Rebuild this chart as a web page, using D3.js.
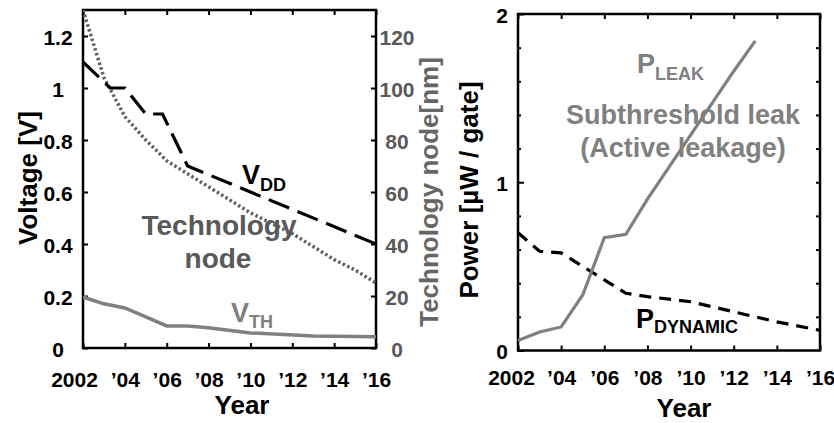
<!DOCTYPE html>
<html><head><meta charset="utf-8">
<script src="https://cdn.jsdelivr.net/npm/d3@7"></script>
<style>
body{margin:0;background:#fff;}
text{font-family:Arial,"Liberation Sans",sans-serif;font-weight:bold;}
</style></head>
<body><svg id="c" width="834" height="423"></svg>
<script>
// ---- data ----
const yearTicks = [2002,2004,2006,2008,2010,2012,2014,2016];
const yearTickLabels = ["2002","\u201904","\u201906","\u201908","\u201910","\u201912","\u201914","\u201916"];
const vddYears = [2002,2003.3,2004,2005,2005.8,2007,2016];
const vddValues = [1.1,1.0,1.0,0.9,0.9,0.7,0.4];
const nodeYears = [2002,2003,2004,2005,2006,2007,2008,2009,2010,2011,2012,2013,2014,2015,2016];
const nodeValues = [130,104,89,80,72,67,62,57,52,48,44,39,34,30,25];
const vthYears = [2002,2003,2004,2005,2006,2007,2008,2010,2013,2016];
const vthValues = [0.196,0.17,0.154,0.12,0.085,0.085,0.078,0.058,0.046,0.043];
const voltTicks = [0,0.2,0.4,0.6,0.8,1.0,1.2];
const voltTickLabels = ["0","0.2","0.4","0.6","0.8","1","1.2"];
const nodeTicks = [0,20,40,60,80,100,120];
const leakYears = [2002,2003,2004,2005,2006,2007,2008,2009,2010,2011,2012,2013];
const leakValues = [0.06,0.11,0.14,0.33,0.67,0.69,0.9,1.09,1.28,1.47,1.66,1.84];
const dynYears = [2002,2003,2004,2005,2006,2007,2008,2010,2012,2014,2016];
const dynValues = [0.70,0.59,0.58,0.50,0.42,0.34,0.32,0.29,0.23,0.17,0.12];
const powerTicks = [0,1,2];
const powerMinor = [0.2,0.4,0.6,0.8,1.2,1.4,1.6,1.8];
const powerRightTicks = [0.2,0.4,0.6,0.8,1.0,1.2,1.4,1.6,1.8];

const svg = d3.select("#c");
const GRAY = "#808080", DGRAY = "#595959";

// ---------- LEFT PANEL ----------
const L = {x0:83,x1:376,y0:10,y1:348};
const xL = d3.scaleLinear().domain([2002,2016]).range([L.x0,L.x1]);
const yV = d3.scaleLinear().domain([0,1.3]).range([L.y1,L.y0]);
const yN = d3.scaleLinear().domain([0,130]).range([L.y1,L.y0]);

function styleAxis(g, color){
  g.select(".domain").remove();
  g.selectAll(".tick line").attr("stroke", "#000").attr("stroke-width",2);
  g.selectAll(".tick text").attr("fill", color||"#000").style("font-family","Arial, 'Liberation Sans', sans-serif").style("font-weight","bold");
}

// bottom
svg.append("g").attr("transform",`translate(0,${L.y1})`)
  .call(d3.axisBottom(xL).tickValues(yearTicks).tickSize(-5).tickPadding(24)
    .tickFormat((d,i)=>yearTickLabels[i]))
  .call(g=>{styleAxis(g); g.selectAll(".tick text").attr("font-size",21).attr("dx",(d,i)=>i===0?-9:0);});
// top
svg.append("g").attr("transform",`translate(0,${L.y0})`)
  .call(d3.axisTop(xL).tickValues(yearTicks).tickSize(-5).tickFormat(""))
  .call(g=>styleAxis(g));
// left
svg.append("g").attr("transform",`translate(${L.x0},0)`)
  .call(d3.axisLeft(yV).tickValues(voltTicks).tickSize(-5).tickFormat((d,i)=>voltTickLabels[i]))
  .call(g=>{styleAxis(g); g.selectAll(".tick text").attr("font-size",21).attr("text-anchor","middle").attr("x",-25).attr("dy","0.4em");});
// right
svg.append("g").attr("transform",`translate(${L.x1},0)`)
  .call(d3.axisRight(yN).tickValues(nodeTicks).tickSize(-5).tickFormat(d3.format("d")))
  .call(g=>{styleAxis(g,DGRAY); g.selectAll(".tick text").attr("font-size",21).attr("text-anchor","middle").attr("x",21).attr("dy","0.4em");});

svg.append("rect").attr("x",L.x0).attr("y",L.y0).attr("width",L.x1-L.x0).attr("height",L.y1-L.y0)
  .attr("fill","none").attr("stroke","#000").attr("stroke-width",2.5);

// labels under lines
svg.append("text").attr("x",xL(2008.5)).attr("y",yV(0.435)).attr("text-anchor","middle").attr("font-size",28).attr("fill",DGRAY).text("Technology");
svg.append("text").attr("x",xL(2008.45)).attr("y",yV(0.308)).attr("text-anchor","middle").attr("font-size",28).attr("fill",DGRAY).text("node");

svg.append("clipPath").attr("id","clipL").append("rect").attr("x",L.x0).attr("y",L.y0).attr("width",L.x1-L.x0).attr("height",L.y1-L.y0);
const gl = svg.append("g").attr("clip-path","url(#clipL)");
const lineV = (xs,ys,sx,sy)=>d3.line().x((d,i)=>sx(xs[i])).y((d,i)=>sy(ys[i]))(xs);

gl.append("path").attr("d",lineV(nodeYears,nodeValues,xL,yN)).attr("fill","none")
  .attr("stroke","#606060").attr("stroke-width",3.5).attr("stroke-dasharray","2.5,2.5");
gl.append("path").attr("d",lineV(vddYears,vddValues,xL,yV)).attr("fill","none")
  .attr("stroke","#000").attr("stroke-width",3.2).attr("stroke-dasharray","22,9");
gl.append("path").attr("d",lineV(vthYears,vthValues,xL,yV)).attr("fill","none")
  .attr("stroke",GRAY).attr("stroke-width",3.5);

// VDD label
const tVdd = svg.append("text").attr("x",242).attr("y",184).attr("font-size",27).attr("fill","#000");
tVdd.append("tspan").text("V");
tVdd.append("tspan").attr("font-size",18).attr("dy",7).text("DD");
// VTH label
const tVth = svg.append("text").attr("x",231).attr("y",322).attr("font-size",27).attr("fill",GRAY);
tVth.append("tspan").text("V");
tVth.append("tspan").attr("font-size",18).attr("dy",6).text("TH");

// titles
svg.append("text").attr("transform","translate(37,178) rotate(-90)").attr("text-anchor","middle").attr("font-size",26).attr("fill","#000").text("Voltage [V]");
svg.append("text").attr("transform","translate(438,192) rotate(-90)").attr("text-anchor","middle").attr("font-size",26).attr("fill","#666").text("Technology node[nm]");
svg.append("text").attr("x",242).attr("y",414).attr("text-anchor","middle").attr("font-size",26).attr("fill","#000").text("Year");

// ---------- RIGHT PANEL ----------
const R = {x0:518,x1:820,y0:14,y1:350.5};
const xR = d3.scaleLinear().domain([2002,2016]).range([R.x0,R.x1]);
const yP = d3.scaleLinear().domain([0,2]).range([R.y1,R.y0]);

svg.append("g").attr("transform",`translate(0,${R.y1})`)
  .call(d3.axisBottom(xR).tickValues(yearTicks).tickSize(-5).tickPadding(20)
    .tickFormat((d,i)=>yearTickLabels[i]))
  .call(g=>{styleAxis(g); g.selectAll(".tick text").attr("font-size",21).attr("dx",(d,i)=>i===0?-7:0);});
svg.append("g").attr("transform",`translate(0,${R.y0})`)
  .call(d3.axisTop(xR).tickValues(yearTicks).tickSize(-5).tickFormat(""))
  .call(g=>styleAxis(g));
svg.append("g").attr("transform",`translate(${R.x0},0)`)
  .call(d3.axisLeft(yP).tickValues(powerTicks).tickSize(-6).tickFormat(d3.format("d")))
  .call(g=>{styleAxis(g); g.selectAll(".tick text").attr("font-size",21).attr("text-anchor","middle").attr("x",-16).attr("dy","0.4em");});
svg.append("g").attr("transform",`translate(${R.x0},0)`)
  .call(d3.axisLeft(yP).tickValues(powerMinor).tickSize(-3).tickFormat(""))
  .call(g=>styleAxis(g));
svg.append("g").attr("transform",`translate(${R.x1},0)`)
  .call(d3.axisRight(yP).tickValues(powerRightTicks).tickSize(-4).tickFormat(""))
  .call(g=>styleAxis(g));

svg.append("rect").attr("x",R.x0).attr("y",R.y0).attr("width",R.x1-R.x0).attr("height",R.y1-R.y0)
  .attr("fill","none").attr("stroke","#000").attr("stroke-width",2.5);

const gr = svg.append("g");
gr.append("path").attr("d",lineV(dynYears,dynValues,xR,yP)).attr("fill","none")
  .attr("stroke","#000").attr("stroke-width",3.2).attr("stroke-dasharray","12,8");
gr.append("path").attr("d",lineV(leakYears,leakValues,xR,yP)).attr("fill","none")
  .attr("stroke",GRAY).attr("stroke-width",3.2);

const tLeak = svg.append("text").attr("x",637).attr("y",73).attr("font-size",27).attr("fill",GRAY);
tLeak.append("tspan").text("P");
tLeak.append("tspan").attr("font-size",18).attr("dy",7).text("LEAK");
svg.append("text").attr("x",683).attr("y",124).attr("text-anchor","middle").attr("font-size",27).attr("fill",GRAY).text("Subthreshold leak");
svg.append("text").attr("x",683).attr("y",157).attr("text-anchor","middle").attr("font-size",27).attr("fill",GRAY).text("(Active leakage)");
const tDyn = svg.append("text").attr("x",636).attr("y",328).attr("font-size",27).attr("fill","#000");
tDyn.append("tspan").text("P");
tDyn.append("tspan").attr("font-size",18).attr("dy",5).text("DYNAMIC");

svg.append("text").attr("transform","translate(478,190) rotate(-90)").attr("text-anchor","middle").attr("font-size",26).attr("fill","#000").text("Power [\u00b5W / gate]");
svg.append("text").attr("x",684).attr("y",417).attr("text-anchor","middle").attr("font-size",26).attr("fill","#000").text("Year");
</script></body></html>
